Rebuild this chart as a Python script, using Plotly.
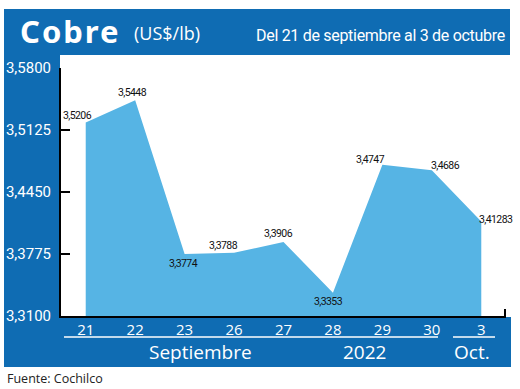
import plotly.graph_objects as go

days = ["21", "22", "23", "26", "27", "28", "29", "30", "3"]
prices = [3.5206, 3.5448, 3.3774, 3.3788, 3.3906, 3.3353, 3.4747, 3.4686, 3.41283]
y_ticks = [3.3100, 3.3775, 3.4450, 3.5125, 3.5800]
y_tick_text = ["3,3100", "3,3775", "3,4450", "3,5125", "3,5800"]
month_labels = ["Septiembre", "2022", "Oct."]

# pixel offsets of each value label from its point (styling only)
label_dx = [-8, -3, -1, -11, -5, -4, -12, 14, 15]
label_dy = [7, 8, -9, 7, 8, -9, 5, 5, 2]

W, H = 520, 389
L, R, T, B = 61, 506, 68, 316
DARK = "#0f6cb3"
LIGHT = "#56b4e4"
NARROW = "Roboto, sans-serif"


def px(x):
    return (x - L) / (R - L)


def py(y):
    return (B - y) / (B - T)


x_idx = list(range(len(days)))
labels = [str(v).replace(".", ",") for v in prices]

fig = go.Figure()
fig.add_trace(go.Scatter(
    x=x_idx, y=prices, mode="lines", fill="tozeroy",
    fillcolor=LIGHT, line=dict(width=0, color=LIGHT),
    hoverinfo="skip", showlegend=False,
))

shapes = [
    dict(type="rect", xref="paper", yref="paper", x0=px(4), x1=px(510), y0=py(55), y1=py(9),
         fillcolor=DARK, line=dict(width=0), layer="below"),
    dict(type="rect", xref="paper", yref="paper", x0=px(4), x1=px(60), y0=py(367), y1=py(55),
         fillcolor=DARK, line=dict(width=0), layer="below"),
    dict(type="rect", xref="paper", yref="paper", x0=px(4), x1=px(511), y0=py(367), y1=py(317),
         fillcolor=DARK, line=dict(width=0), layer="below"),
    dict(type="line", xref="paper", yref="paper", x0=px(64), x1=px(438), y0=py(337), y1=py(337),
         line=dict(color="white", width=1.5)),
    dict(type="line", xref="paper", yref="paper", x0=px(453), x1=px(495), y0=py(337), y1=py(337),
         line=dict(color="white", width=1.5)),
    dict(type="line", xref="paper", yref="paper", x0=px(505), x1=px(505), y0=py(316), y1=py(309),
         line=dict(color="black", width=2)),
]

annotations = [
    dict(text="<span style='letter-spacing:2px'>Cobre</span>", xref="paper", yref="paper",
         x=px(18), y=py(31), xanchor="left", yanchor="middle",
         showarrow=False, font=dict(family="Noto Sans, sans-serif", size=31, weight="bold", color="white")),
    dict(text="(US$/lb)", xref="paper", yref="paper", x=px(132), y=py(33), xanchor="left", yanchor="middle",
         showarrow=False, font=dict(family="Open Sans, sans-serif", size=18, color="white")),
    dict(text="<span style='letter-spacing:-0.3px'>Del 21 de septiembre al 3 de octubre</span>",
         xref="paper", yref="paper", x=px(507), y=py(36),
         xanchor="right", yanchor="middle", showarrow=False,
         font=dict(family=NARROW, size=16, color="white")),
    dict(text=month_labels[0], xref="paper", yref="paper", x=px(200), y=py(352), xanchor="center",
         yanchor="middle", showarrow=False, font=dict(family="Open Sans, sans-serif", size=19, color="white")),
    dict(text=month_labels[1], xref="paper", yref="paper", x=px(364), y=py(352), xanchor="center",
         yanchor="middle", showarrow=False, font=dict(family="Open Sans, sans-serif", size=19, color="white")),
    dict(text=month_labels[2], xref="paper", yref="paper", x=px(472), y=py(352), xanchor="center",
         yanchor="middle", showarrow=False, font=dict(family="Open Sans, sans-serif", size=19, color="white")),
    dict(text="Fuente: Cochilco", xref="paper", yref="paper", x=px(5), y=py(378), xanchor="left",
         yanchor="middle", showarrow=False, font=dict(family="Open Sans, sans-serif", size=12.5, color="#222222")),
]

for xi, yv, lab, dx, dy in zip(x_idx, prices, labels, label_dx, label_dy):
    annotations.append(dict(
        x=xi, y=yv, xref="x", yref="y",
        text="<span style='letter-spacing:-0.6px'>" + lab + "</span>", showarrow=False,
        xanchor="center", yanchor="middle", xshift=dx, yshift=dy, borderpad=0,
        font=dict(family=NARROW, size=10.5, color="#111111"),
    ))

fig.update_layout(
    width=W, height=H,
    margin=dict(l=L, r=W - R, t=T, b=H - B, pad=0, autoexpand=False),
    paper_bgcolor="white", plot_bgcolor="white",
    shapes=shapes, annotations=annotations,
    xaxis=dict(
        range=[-0.5, len(days) - 0.5], tickvals=x_idx, ticktext=days, automargin=False,
        showgrid=False, zeroline=False, showline=True, linecolor="black", linewidth=2,
        ticks="", tickfont=dict(family="Open Sans, sans-serif", size=15, color="white"),
        ticklabelstandoff=-1,
    ),
    yaxis=dict(
        range=[3.31, 3.58], tickvals=y_ticks, ticktext=y_tick_text, automargin=False,
        showgrid=False, zeroline=False, showline=True, linecolor="black", linewidth=2,
        ticks="inside", ticklen=9, tickwidth=2, tickcolor="black",
        tickfont=dict(family="Roboto, sans-serif", size=15, color="white"),
        ticklabelstandoff=5,
    ),
)

fig.write_html("out.html", config={"displayModeBar": False},
               post_script="document.body.style.margin='0';document.body.style.overflow='hidden';")
